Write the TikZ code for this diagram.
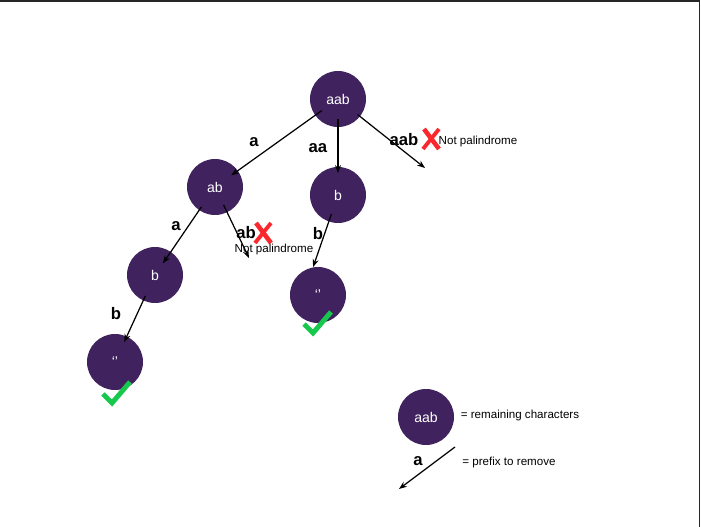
\documentclass[tikz,border=0pt]{standalone}
\usepackage{fontspec}
\setmainfont{Liberation Sans}
\usetikzlibrary{arrows.meta}
\definecolor{statepurple}{RGB}{63,34,94}
\definecolor{okgreen}{RGB}{22,200,76}
\definecolor{nored}{RGB}{250,40,45}
\begin{document}
\begin{tikzpicture}[
    x=0.02cm, y=-0.02cm,
    >={Stealth[length=4.5pt,width=3.4pt]},
    state/.style={circle, fill=statepurple, text=white, inner sep=0pt,
        minimum size=1.12cm, font=\fontsize{8}{9}\selectfont},
    prefixlab/.style={font=\bfseries\fontsize{9.5}{11}\selectfont},
    remark/.style={font=\fontsize{6.6}{8}\selectfont},
    edge/.style={->, line width=0.7pt, shorten <=0.4cm, shorten >=0.4cm},
    okmark/.pic={\draw[okgreen, line width=2.8pt] (-9,-9) -- (0,0) -- (18,-21);},
    nomark/.pic={\draw[nored, line width=2.6pt] (-7,-10) -- (8,10);
                 \draw[nored, line width=2.2pt] (8,-10) -- (-8,10);}
]
\useasboundingbox (0,0) rectangle (701,527);
\draw[line width=1pt, black!85] (0,0.7) -- (699.5,0.7) -- (699.5,527);

% states
\node[state] (root) at (338,99) {aab};
\node[state] (ab) at (215,187) {ab};
\node[state] (bm) at (338,195) {b};
\node[state] (bl) at (155,275) {b};
\node[state] (em) at (318,295) {`'};
\node[state] (el) at (115,362) {`'};
\coordinate (rootno) at (425,168);
\coordinate (abno) at (249,258);

% prefixes removed
\draw[edge] (root.center) -- (ab.center);
\draw[edge, shorten >=0.44cm] (root.center) -- (bm.center);
\draw[edge, shorten <=0.5cm, shorten >=0pt] (root.center) -- (rootno);
\draw[edge, shorten <=0.48cm, shorten >=0.28cm] (ab.center) -- (bl.center);
\draw[edge, shorten >=0pt] (ab.center) -- (abno);
\draw[edge, shorten >=0pt] (bm.center) -- (em.100);
\draw[edge, shorten <=0.46cm, shorten >=0.44cm] (bl.center) -- (el.center);

\node[prefixlab] (pa) at (254,142) {a};
\node[prefixlab] (paa) at (318,148) {aa};
\node[prefixlab] (paab) at (404,140) {aab};
\node[prefixlab] (pa2) at (176,226) {a};
\node[prefixlab] (pab) at (246,233) {ab};
\node[prefixlab] (pb) at (318,234) {b};
\node[prefixlab] (pb2) at (116,314) {b};

\pic at (431,139) {nomark};
\pic at (263,233) {nomark};
\node[remark] (np1) at (478,142) {Not palindrome};
\node[remark] (np2) at (274,250) {Not palindrome};
\pic at (112,403) {okmark};
\pic at (313,333) {okmark};

% legend
\node[state] (key) at (426,417) {aab};
\node[remark] (keytxt) at (520,416) {= remaining characters};
\coordinate (lgs) at (455,447);
\coordinate (lge) at (399,489);
\draw[->, line width=0.7pt] (lgs) -- (lge);
\node[prefixlab] (keya) at (418,461) {a};
\node[remark] (lgtxt) at (509,463) {= prefix to remove};
\end{tikzpicture}
\end{document}
